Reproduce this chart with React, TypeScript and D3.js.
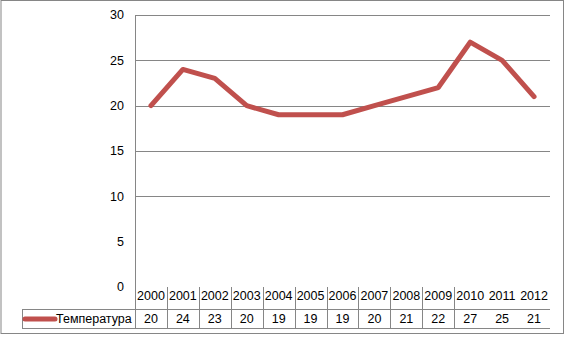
import React from "react";
import * as d3 from "d3";

const years = ["2000","2001","2002","2003","2004","2005","2006","2007","2008","2009","2010","2011","2012"];
const temps = [20, 24, 23, 20, 19, 19, 19, 20, 21, 22, 27, 25, 21];
const yTicks = [0, 5, 10, 15, 20, 25, 30];
const gridTicks = [10, 15, 20, 25, 30];
const seriesName = "Температура";

const W = 566, H = 337;
const plotL = 135, plotR = 550, plotT = 15, plotB = 287;
const rowMid = 309, rowBot = 328, legendL = 22;
const font = "'Liberation Sans', Arial, sans-serif";
const grid = "#868686";
const red = "#C0504D";

export default function App() {
  const x = d3.scaleBand<string>().domain(years).range([plotL, plotR]).padding(0);
  const y = d3.scaleLinear().domain([0, 30]).range([plotB, plotT]);
  const line = d3.line<number>()
    .x((_, i) => (x(years[i]) as number) + x.bandwidth() / 2)
    .y((d) => y(d));
  const bw = x.bandwidth();
  return (
    <svg width={W} height={H} style={{ position: "absolute", left: 0, top: 0 }} fontFamily={font}>
      <rect x={1} y={0.5} width={562.5} height={333} fill="#fff" stroke={grid} strokeWidth={1} />
      {gridTicks.map((t) => (
        <line key={t} x1={plotL} x2={plotR} y1={Math.round(y(t)) + 0.5} y2={Math.round(y(t)) + 0.5} stroke={grid} />
      ))}
      {yTicks.map((t) => (
        <text key={t} x={124} y={y(t)} dy="0.35em" textAnchor="end" fontSize={12.5} fill="#000">{t}</text>
      ))}
      <line x1={plotL + 0.5} x2={plotL + 0.5} y1={plotT} y2={rowBot} stroke={grid} />
      {years.slice(0, 10).map((yr, i) => {
        const bx = Math.round((x(yr) as number) + bw) + 0.5;
        return <line key={yr} x1={bx} x2={bx} y1={plotB} y2={rowBot} stroke={grid} />;
      })}
      <line x1={legendL} x2={plotR} y1={rowMid + 0.5} y2={rowMid + 0.5} stroke={grid} />
      <line x1={legendL} x2={plotR} y1={rowBot + 0.5} y2={rowBot + 0.5} stroke={grid} />
      <line x1={legendL + 0.5} x2={legendL + 0.5} y1={rowMid} y2={rowBot} stroke={grid} />
      {years.map((yr) => (
        <text key={yr} x={(x(yr) as number) + bw / 2} y={300} textAnchor="middle" fontSize={12.5} fill="#000">{yr}</text>
      ))}
      {temps.map((v, i) => (
        <text key={i} x={(x(years[i]) as number) + bw / 2} y={323} textAnchor="middle" fontSize={12.5} fill="#000">{v}</text>
      ))}
      <line x1={25} x2={55} y1={319} y2={319} stroke={red} strokeWidth={5} strokeLinecap="round" />
      <text x={56} y={323} fontSize={12.5} fill="#000">{seriesName}</text>
      <path d={line(temps) || ""} fill="none" stroke={red} strokeWidth={5} strokeLinejoin="round" strokeLinecap="round" />
    </svg>
  );
}
